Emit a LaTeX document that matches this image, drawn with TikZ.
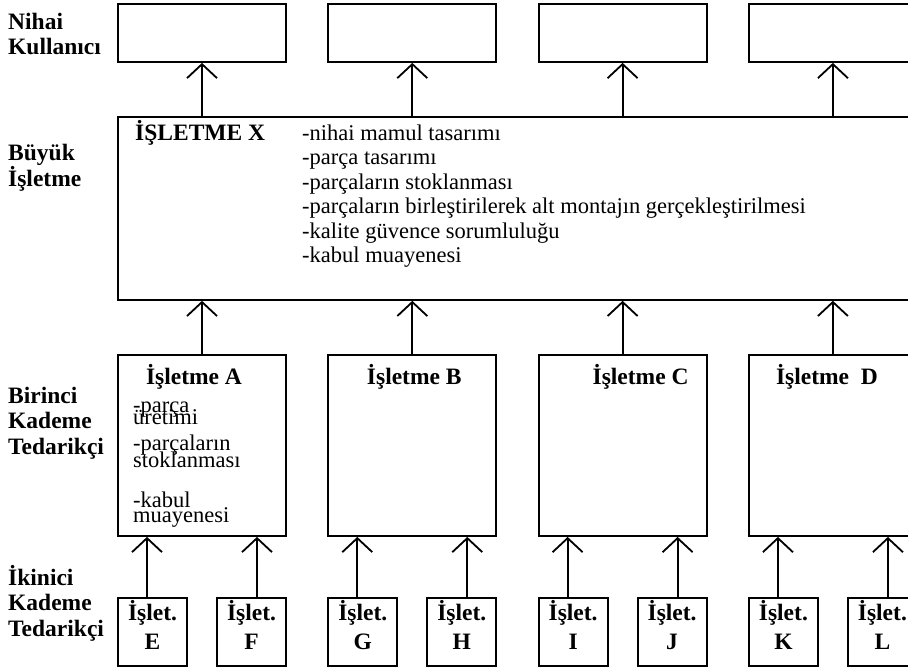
\documentclass[tikz,border=0pt]{standalone}
\usepackage{fontspec}
\setmainfont{Liberation Serif}
\usetikzlibrary{positioning,arrows.meta}
\newcommand{\BodyFont}{\fontsize{22.5}{24.5}\selectfont}
\newcommand{\TightFont}[2]{\fontsize{#1}{#2}\selectfont\lineskiplimit=-100pt\relax}

\tikzset{
  box/.style={draw, line width=1.8pt, inner sep=0pt},
  userbox/.style={box, minimum width=168pt, minimum height=58pt},
  tierbox/.style={box, minimum width=168pt, minimum height=181pt},
  subbox/.style={box, minimum width=69pt, minimum height=68pt},
  subtext/.style={inner sep=0pt, align=center, font=\bfseries\TightFont{23.5}{29}},
  side/.style={inner sep=0pt, anchor=west, align=left, font=\bfseries\TightFont{23.5}{25.5}},
  title/.style={inner sep=0pt, anchor=base, font=\bfseries\TightFont{23.5}{25}},
  item/.style={inner sep=0pt, anchor=north west, align=left},
  uparrow/.style={line width=1.8pt, -{Straight Barb[length=14pt,width=30pt,line width=1.8pt]}}
}

\begin{document}
\begin{tikzpicture}[x=1pt, y=-1pt, node distance=40.5pt]
	\useasboundingbox (0,0) rectangle (908,670);

	% Define nodes
	\node[userbox] (U1) at (202,33) {};
	\node[userbox, right=of U1] (U2) {};
	\node[userbox, right=of U2] (U3) {};
	\node[userbox, right=of U3] (U4) {};

	\node[box, anchor=north west, minimum width=830pt, minimum height=183pt] (X) at (117,116) {};
	\node[title, anchor=base west] (xname) at (135,140) {İŞLETME X};
	\node[item, font=\BodyFont] (xlist) at (302,124.6) {-nihai mamul tasarımı\\-parça tasarımı\\-parçaların stoklanması\\-parçaların birleştirilerek alt montajın gerçekleştirilmesi\\-kalite güvence sorumluluğu\\-kabul muayenesi};

	\node[tierbox] (A) at (202,445.5) {};
	\node[tierbox, right=of A] (B) {};
	\node[tierbox, right=of B] (C) {};
	\node[tierbox, right=of C] (D) {};

	\node[title] (tA) at ([xshift=-8pt, yshift=-30pt]A.north) {İşletme A};
	\node[title] (tB) at ([xshift=2pt, yshift=-30pt]B.north) {İşletme B};
	\node[title] (tC) at ([xshift=18pt, yshift=-30pt]C.north) {İşletme C};
	\node[title] (tD) at ([xshift=-6pt, yshift=-30pt]D.north) {İşletme\ \ D};

	\node[item, font=\TightFont{22.5}{12}] (a1) at (133,401.9) {-parça\\üretimi};
	\node[item, font=\TightFont{22.5}{17}] (a2) at (133,434.6) {-parçaların\\stoklanması};
	\node[item, font=\TightFont{22.5}{15}] (a3) at (133,491.6) {-kabul\\muayenesi};

	\node[subbox, below=60pt of A.south west, anchor=north west] (E) {};
	\node[subbox, below=60pt of A.south east, anchor=north east] (F) {};
	\node[subbox, below=60pt of B.south west, anchor=north west] (G) {};
	\node[subbox, below=60pt of B.south east, anchor=north east] (H) {};
	\node[subbox, below=60pt of C.south west, anchor=north west] (I) {};
	\node[subbox, below=60pt of C.south east, anchor=north east] (J) {};
	\node[subbox, below=60pt of D.south west, anchor=north west] (K) {};
	\node[subbox, below=60pt of D.south east, anchor=north east] (L) {};
	\foreach \n in {E,F,G,H,I,J,K,L}
		\node[subtext] (t\n) at ([yshift=6.5pt]\n.center) {İşlet.\\\n};

	\node[side] (end) at (8,34) {Nihai\\Kullanıcı};
	\node[side] (big) at (8,168) {Büyük\\İşletme};
	\node[side] (first) at (8,423) {Birinci\\Kademe\\Tedarikçi};
	\node[side] (second) at (8,603) {İkinici\\Kademe\\Tedarikçi};

	% Connect the nodes
	\foreach \u in {U1,U2,U3,U4}
		\draw[uparrow] (\u |- X.north) -- (\u.south);
	\foreach \t in {A,B,C,D}
		\draw[uparrow] (\t.north) -- (\t.north |- X.south);
	\foreach \s/\t in {E/A,G/B,I/C,K/D}
		\draw[uparrow] ([xshift=-5.5pt]\s.north) -- ([xshift=-5.5pt]\s.north |- \t.south);
	\foreach \s/\t in {F/A,H/B,J/C,L/D}
		\draw[uparrow] ([xshift=5.5pt]\s.north) -- ([xshift=5.5pt]\s.north |- \t.south);
\end{tikzpicture}
\end{document}
